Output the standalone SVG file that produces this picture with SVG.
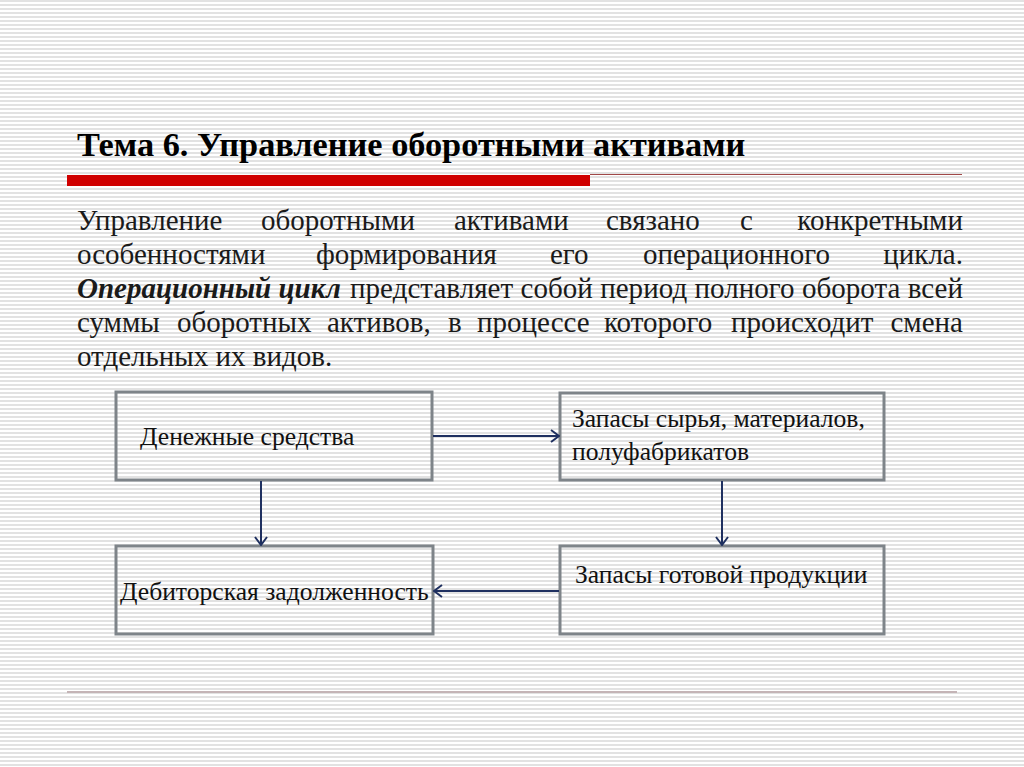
<svg xmlns="http://www.w3.org/2000/svg" width="1024" height="767" viewBox="0 0 1024 767">
<defs>
<pattern id="stripes" width="8" height="4" patternUnits="userSpaceOnUse">
<rect width="8" height="4" fill="#ffffff"/>
<rect y="0" width="8" height="2" fill="#e2e2e2"/>
</pattern>
<marker id="arr" viewBox="0 0 10 14" refX="9" refY="7" markerWidth="10" markerHeight="14" markerUnits="userSpaceOnUse" orient="auto">
<path d="M1,1 L9,7 L1,13" fill="none" stroke="#1f3060" stroke-width="2"/>
</marker>
</defs>
<rect width="1024" height="767" fill="url(#stripes)"/>
<text font-family="'Liberation Serif', serif" font-weight="bold" font-size="34.3" fill="#000" x="77" y="156">Тема 6. Управление оборотными активами</text>
<rect x="67" y="175" width="523" height="11" fill="#d00000"/>
<line x1="590" y1="174.5" x2="962" y2="174.5" stroke="#a04848" stroke-width="1.2"/>
<g font-family="'Liberation Serif', serif" font-size="29" fill="#1a1a1a">
<text y="230"><tspan x="77">Управление</tspan><tspan x="261">оборотными</tspan><tspan x="454">активами</tspan><tspan x="606">связано</tspan><tspan x="740">с</tspan><tspan x="963" text-anchor="end">конкретными</tspan></text>
<text y="264"><tspan x="77">особенностями</tspan><tspan x="316">формирования</tspan><tspan x="550">его</tspan><tspan x="643">операционного</tspan><tspan x="963" text-anchor="end">цикла.</tspan></text>
<text y="298" x="77" font-weight="bold" font-style="italic">Операционный цикл</text>
<text y="298" x="350" textLength="613" lengthAdjust="spacing">представляет собой период полного оборота всей</text>
<text y="332"><tspan x="77">суммы</tspan><tspan x="177">оборотных</tspan><tspan x="327">активов,</tspan><tspan x="448">в</tspan><tspan x="477">процессе</tspan><tspan x="604">которого</tspan><tspan x="731">происходит</tspan><tspan x="963" text-anchor="end">смена</tspan></text>
<text y="366" x="77">отдельных их видов.</text>
</g>
<g font-family="'Liberation Serif', serif" font-size="25.6" fill="#111">
<g id="node-cash">
<rect x="116" y="392" width="316" height="88" fill="none" stroke="#7e8489" stroke-width="3"/>
<text x="140" y="445">Денежные средства</text>
</g>
<g id="node-stock">
<rect x="560" y="393" width="324" height="87" fill="none" stroke="#7e8489" stroke-width="3"/>
<text x="572" y="427">Запасы сырья, материалов,</text>
<text x="572" y="460">полуфабрикатов</text>
</g>
<g id="node-receivables">
<rect x="116" y="546" width="317" height="88" fill="none" stroke="#7e8489" stroke-width="3"/>
<text x="120" y="600">Дебиторская задолженность</text>
</g>
<g id="node-goods">
<rect x="560" y="546" width="324" height="88" fill="none" stroke="#7e8489" stroke-width="3"/>
<text x="575" y="583">Запасы готовой продукции</text>
</g>
</g>
<g id="connectors" stroke="#1f3060" stroke-width="2" marker-end="url(#arr)">
<line x1="433" y1="436" x2="559" y2="436"/>
<line x1="261" y1="481" x2="261" y2="545"/>
<line x1="722" y1="481" x2="722" y2="545"/>
<line x1="559" y1="591" x2="434" y2="591"/>
</g>
<line x1="67" y1="692" x2="957" y2="692" stroke="#c4b4b6" stroke-width="2"/>
</svg>
